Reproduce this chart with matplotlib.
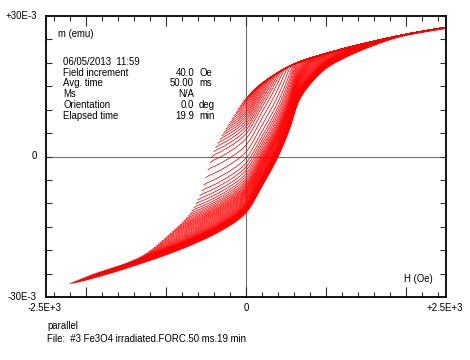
import numpy as np
import matplotlib
matplotlib.use("Agg")
import matplotlib.pyplot as plt

plt.rcParams["font.family"] = ["Liberation Sans", "DejaVu Sans"]

# major loop envelope (H in Oe, m in 1E-3 emu)
desc_H = [-2200, -1950, -1325, -950, -700, -550, -425, -200, 0, 250, 625, 1000, 1375, 2000, 2500]
desc_m = [-27.1, -25.4, -21.5, -16.5, -12.2, -7.3, 0.0, 7.3, 12.4, 16.2, 19.9, 22.0, 23.7, 26.1, 27.6]
asc_H = [-2200, -1950, -1325, -700, -200, 0, 200, 400, 537, 662, 840, 1000, 1250, 1590, 2000, 2500]
asc_m = [-27.1, -26.1, -22.9, -19.0, -14.7, -12.0, -6.3, 0.0, 5.6, 12.0, 16.2, 18.8, 21.2, 23.7, 26.1, 27.6]

# reversal fields and field step of the run
hr_first, hr_last, hr_step = -2200, 1000, 25
field_inc = 40.0
h_max = 2500

info_rows = [("Field increment", "40.0", "Oe"),
             ("Avg. time", "50.00", "ms"),
             ("Ms", "N/A", ""),
             ("Orientation", "0.0", "deg"),
             ("Elapsed time", "19.9", "min")]
stamp = "06/05/2013  11:59"
sample_line = "parallel"
file_line = "File:  #3 Fe3O4 irradiated.FORC.50 ms.19 min"

W, Hpx = 470, 360


def pchip(xk, yk, x):
    # monotone cubic through the read points
    xk = np.asarray(xk, float)
    yk = np.asarray(yk, float)
    x = np.clip(np.asarray(x, float), xk[0], xk[-1])
    h = np.diff(xk)
    d = np.diff(yk) / h
    m = np.zeros_like(yk)
    m[0], m[-1] = d[0], d[-1]
    for k in range(1, len(xk) - 1):
        if d[k - 1] * d[k] > 0:
            w1 = 2 * h[k] + h[k - 1]
            w2 = h[k] + 2 * h[k - 1]
            m[k] = (w1 + w2) / (w1 / d[k - 1] + w2 / d[k])
    i = np.clip(np.searchsorted(xk, x) - 1, 0, len(h) - 1)
    t = (x - xk[i]) / h[i]
    h00 = 2 * t**3 - 3 * t**2 + 1
    h10 = t**3 - 2 * t**2 + t
    h01 = -2 * t**3 + 3 * t**2
    h11 = t**3 - t**2
    return h00 * yk[i] + h10 * h[i] * m[i] + h01 * yk[i + 1] + h11 * h[i] * m[i + 1]


def md(h):
    return pchip(desc_H, desc_m, h)


def ma(h):
    return pchip(asc_H, asc_m, h)


def forc(hr, k=0.35):
    # ascending branch lifted by the loop opening at hr, capped by the descending branch
    h = np.arange(hr, h_max + 1, field_inc)
    a = ma(h) + (md(hr) - ma(hr))
    b = md(h)
    lo = np.minimum(a, b)
    return h, lo - k * np.log(np.exp(-(a - lo) / k) + np.exp(-(b - lo) / k)) + k * np.log(2) * np.exp(-(h - hr) / 60)


def px(x, y):
    return x / W, 1 - y / Hpx


fig = plt.figure(figsize=(W / 100, Hpx / 100), dpi=100)
ax = fig.add_axes([46 / W, 1 - 297 / Hpx, 400 / W, 281 / Hpx])

ax.axhline(0, color="#707070", lw=0.8, zorder=1)
ax.axvline(0, color="#707070", lw=0.8, zorder=1)

for hr in np.arange(hr_first, hr_last + 1, hr_step):
    h, m = forc(hr)
    ax.plot(h, m, color="red", lw=0.55, zorder=2)

ax.set_xlim(-2500, 2500)
ax.set_ylim(-30, 30)

for s in ax.spines.values():
    s.set_linewidth(1.3)

ax.set_xticks([-2000, -1000, 0, 1000, 2000])
ax.set_xticks([v for v in range(-2400, 2401, 200) if v % 1000], minor=True)
ax.set_yticks([v for v in range(-25, 26, 5)])
ax.tick_params(which="both", direction="in", top=True, right=True,
               labelbottom=False, labelleft=False, width=0.8, color="#303030")
ax.tick_params(axis="x", which="major", length=7)
ax.tick_params(axis="x", which="minor", length=3.5)
ax.tick_params(axis="y", which="major", length=4.5)

fs = 6.9
fig.text(*px(37, 16), "+30E-3", ha="right", va="center", fontsize=fs)
fig.text(*px(37, 156), "0", ha="right", va="center", fontsize=fs)
fig.text(*px(37, 297), "-30E-3", ha="right", va="center", fontsize=fs)
fig.text(*px(45, 308), "-2.5E+3", ha="center", va="center", fontsize=fs)
fig.text(*px(246, 308), "0", ha="center", va="center", fontsize=fs)
fig.text(*px(445, 308), "+2.5E+3", ha="center", va="center", fontsize=fs)

fig.text(*px(58, 34), "m (emu)", ha="left", va="center", fontsize=fs)
fig.text(*px(404, 279), "H (Oe)", ha="left", va="center", fontsize=fs)

fig.text(*px(63, 62), stamp, ha="left", va="center", fontsize=fs)
for i, (name, val, unit) in enumerate(info_rows):
    y = 72.5 + i * 10.8
    fig.text(*px(63, y), name, ha="left", va="center", fontsize=fs)
    fig.text(*px(194, y), val, ha="right", va="center", fontsize=fs)
    if unit:
        fig.text(*px(199, y), unit, ha="left", va="center", fontsize=fs)

fig.text(*px(47, 326), sample_line, ha="left", va="center", fontsize=fs)
fig.text(*px(47, 339), file_line, ha="left", va="center", fontsize=fs)

fig.savefig("out.png", dpi=100)
